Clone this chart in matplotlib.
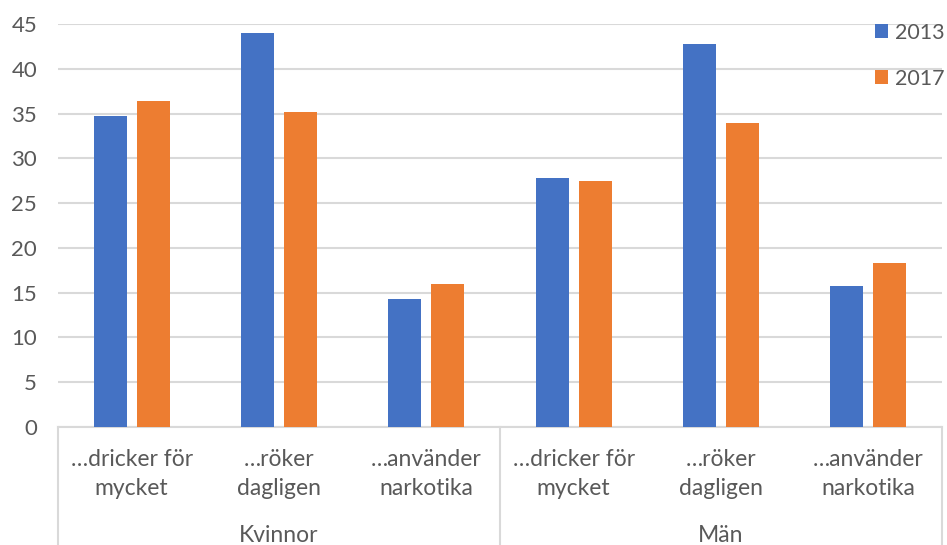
import matplotlib.pyplot as plt
import numpy as np
from matplotlib.transforms import blended_transform_factory

plt.rcParams['font.family'] = ['Lato', 'DejaVu Sans']

groups = ['Kvinnor', 'Män']
categories = ['…dricker för\nmycket', '…röker\ndagligen', '…använder\nnarkotika']
years = ['2013', '2017']
values_2013 = [34.7, 44.0, 14.3, 27.8, 42.8, 15.8]
values_2017 = [36.4, 35.2, 16.0, 27.5, 34.0, 18.3]
colors = ['#4472c4', '#ed7d31']
grey = '#595959'
linec = '#d9d9d9'

fig = plt.figure(figsize=(9.47, 5.45), dpi=100)
ax = fig.add_axes([58 / 947, 118 / 545, 884 / 947, 403 / 545])

n = len(values_2013)
x = np.arange(n)
w = 0.224
off = 0.146
ax.bar(x - off, values_2013, w, color=colors[0], label=years[0], zorder=3)
ax.bar(x + off, values_2017, w, color=colors[1], label=years[1], zorder=3)

ax.set_xlim(-0.5, n - 0.5)
ax.set_ylim(0, 45)
ax.set_yticks(range(0, 46, 5))
ax.yaxis.grid(True, color=linec, linewidth=1.5, zorder=0)
ax.tick_params(axis='y', length=0, pad=15, labelsize=16, labelcolor=grey)
for s in ['top', 'right', 'left']:
    ax.spines[s].set_visible(False)
ax.spines['bottom'].set_color(linec)
ax.spines['bottom'].set_linewidth(1.5)

ax.set_xticks(x)
ax.set_xticklabels(categories * len(groups), fontsize=16.5, color=grey, linespacing=1.45)
ax.tick_params(axis='x', length=0, pad=16)

tr = blended_transform_factory(ax.transData, fig.transFigure)
for b in [-0.5, 2.5, 5.5]:
    ax.plot([b, b], [118 / 545, 0], transform=tr, color=linec, lw=1.5, clip_on=False)
for i, g in enumerate(groups):
    ax.text(i * 3 + 1, 10 / 545, g, transform=tr, ha='center', va='center',
            fontsize=16.5, color=grey)

ax.legend(loc='upper right', bbox_to_anchor=(1.015, 1.03), frameon=False, fontsize=15.5,
          borderpad=0, handlelength=0.6, handleheight=0.6, handletextpad=0.3,
          labelspacing=1.2, labelcolor=grey)

fig.savefig('out.png', dpi=100)
